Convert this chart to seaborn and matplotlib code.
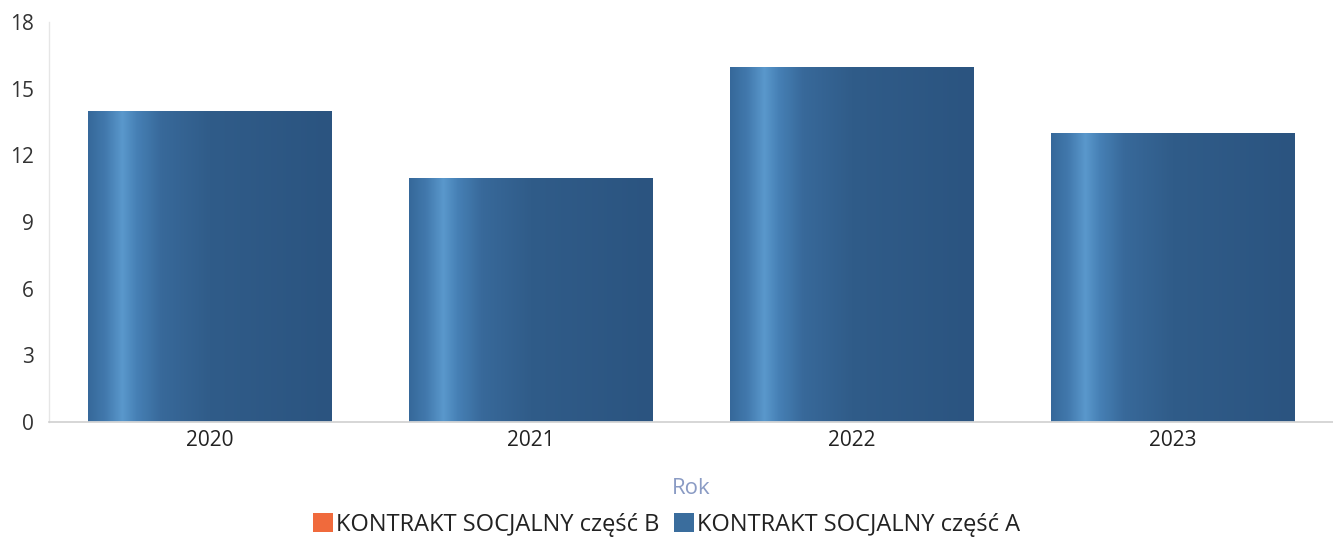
import numpy as np
import pandas as pd
import matplotlib
matplotlib.use("Agg")
import matplotlib.pyplot as plt
from matplotlib.colors import LinearSegmentedColormap
from matplotlib.patches import Patch
import seaborn as sns

years = ["2020", "2021", "2022", "2023"]
part_a = [14, 11, 16, 13]
part_b = [0, 0, 0, 0]
series_labels = ["KONTRAKT SOCJALNY część B", "KONTRAKT SOCJALNY część A"]
y_ticks = [0, 3, 6, 9, 12, 15, 18]

sns.set_theme(style="white")
plt.rcParams["font.family"] = ["Open Sans", "DejaVu Sans"]

fig = plt.figure(figsize=(13.33, 5.39), dpi=100)
ax = fig.add_axes([0.037, 0.217, 0.963, 0.742])

df = pd.DataFrame({"Rok": years, "A": part_a, "B": part_b})
sns.barplot(data=df, x="Rok", y="A", color="#2f5f8c", width=0.76, ax=ax,
            saturation=1, zorder=2)
n_a = len(ax.patches)
sns.barplot(data=df, x="Rok", y="B", color="#f06a3c", width=0.76, ax=ax,
            saturation=1, zorder=3)

cmap = LinearSegmentedColormap.from_list(
    "barblue",
    [(0.0, "#36689a"), (0.07, "#4279ad"), (0.14, "#5a98cc"), (0.2, "#4680b5"),
     (0.3, "#38699a"), (0.5, "#305c89"), (1.0, "#2b5480")])
grad = np.linspace(0, 1, 256).reshape(1, -1)
for p in ax.patches[:n_a]:
    x0, y0 = p.get_x(), p.get_y()
    w, h = p.get_width(), p.get_height()
    im = ax.imshow(grad, cmap=cmap, extent=[x0, x0 + w, y0, y0 + h],
                   aspect="auto", zorder=2.5, interpolation="bilinear")
    im.set_clip_path(p)

ax.set_xlim(-0.5, len(years) - 0.5)
ax.set_ylim(0, 18)
ax.set_yticks(y_ticks)
ax.set_yticklabels([str(t) for t in y_ticks])
ax.tick_params(axis="y", labelsize=15, labelcolor="#333333", length=0, pad=11)
ax.tick_params(axis="x", labelsize=15, labelcolor="#222222", length=0, pad=6)
ax.set_ylabel("")
ax.set_xlabel("Rok", fontsize=16, color="#8a9bc4", labelpad=19)

for s in ["top", "right"]:
    ax.spines[s].set_visible(False)
ax.spines["left"].set_color("#e6e6e6")
ax.spines["bottom"].set_color("#d0d0d0")
ax.spines["left"].set_linewidth(1)
ax.spines["bottom"].set_linewidth(1.2)

handles = [Patch(facecolor="#f06a3c", edgecolor="none"),
           Patch(facecolor="#3a6d9d", edgecolor="none")]
fig.legend(handles, series_labels, loc="lower center", ncol=2,
           bbox_to_anchor=(0.5, -0.035), frameon=False, fontsize=17,
           handlelength=0.85, handleheight=0.85, handletextpad=0.15,
           columnspacing=0.6, labelcolor="#222222")

fig.savefig("out.png", dpi=100)
